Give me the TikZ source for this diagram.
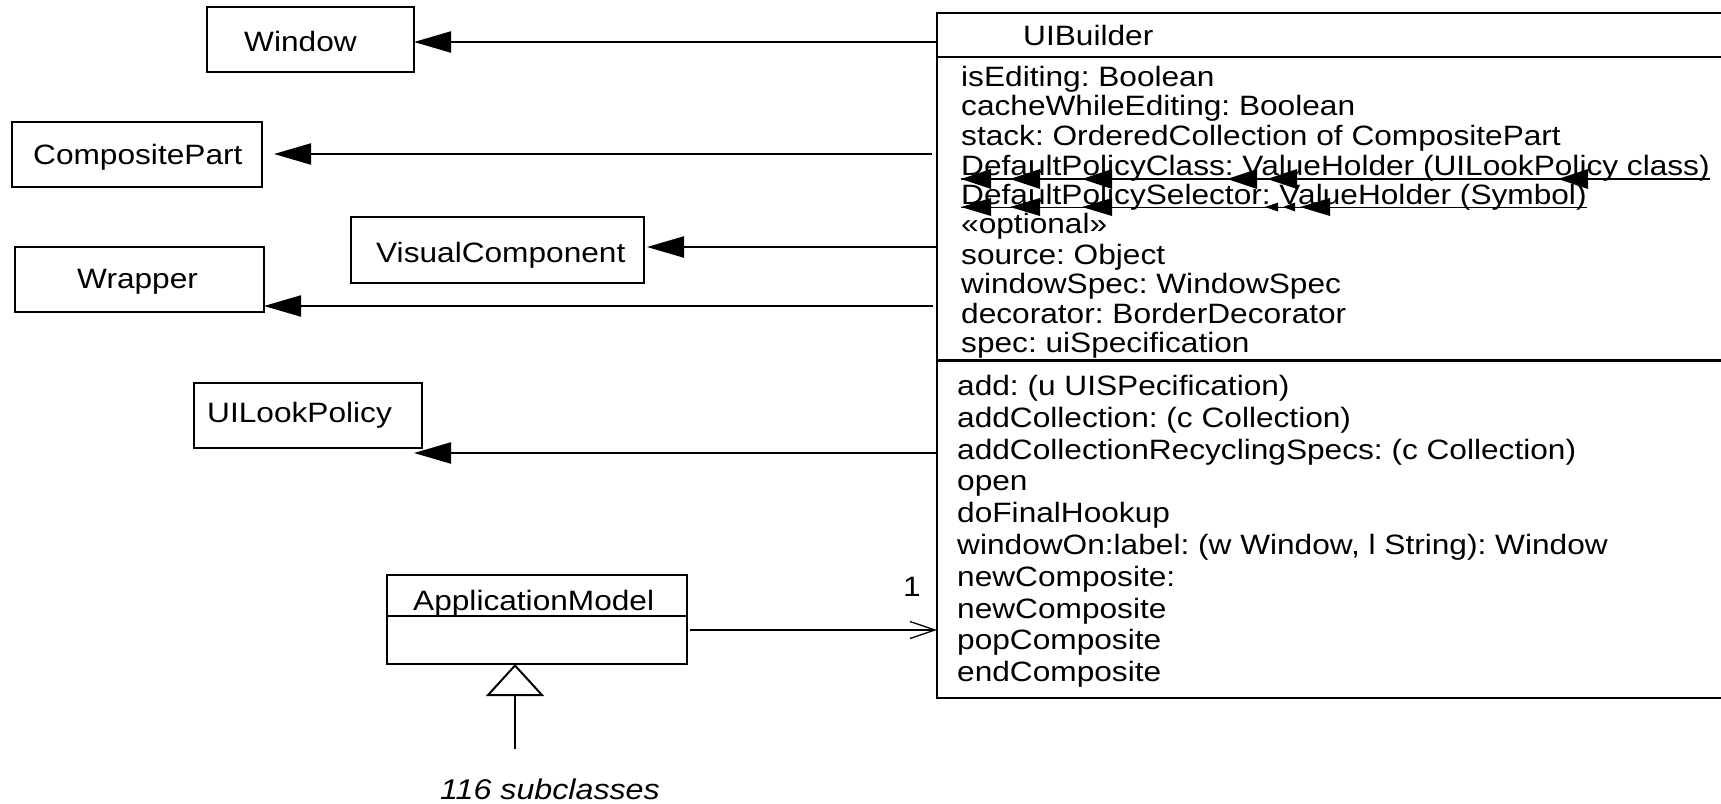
\documentclass[tikz,border=0pt]{standalone}
\usepackage{fontspec}
\setmainfont{Liberation Sans}[FakeStretch=1.13]
\usetikzlibrary{arrows.meta}
\frenchspacing
\begin{document}
\begin{tikzpicture}[x=1pt,y=-1pt,
  txt/.style={anchor=base west, inner sep=0pt, font=\fontsize{28}{30}\selectfont},
  bigtxt/.style={anchor=base west, inner sep=0pt, font=\fontsize{28}{30}\selectfont},
  box/.style={draw, line width=2.3pt, inner sep=0pt, outer sep=0pt, anchor=north west},
  sep/.style={line width=2.3pt},
  dep/.style={line width=2.2pt, -{Triangle[length=37pt,width=21pt]}},
  assoc/.style={line width=1.3pt, -{Straight Barb[length=25pt,width=17pt]}},
  gen/.style={line width=2pt, -{Triangle[open,length=32pt,width=58pt]}},
  uline/.style={line width=1.8pt}]
\useasboundingbox (0,0) rectangle (1721,803);

% ---------- UIBuilder ----------
\node[box, minimum width=820pt, minimum height=685.3pt] (uib) at (937,12.7) {};
\draw[sep] (uib.west |- 0,56.7) -- (uib.east |- 0,56.7);
\draw[sep] (uib.west |- 0,360.5) -- (uib.east |- 0,360.5);
\node[txt] (uibT) at (1023,45) {UIBuilder};

\node[txt] (attr1) at (961,86) {isEditing: Boolean};
\node[txt] (attr2) at (961,115.5) {cacheWhileEditing: Boolean};
\node[txt] (attr3) at (961,145) {stack: OrderedCollection of CompositePart};
\node[txt] (attr4) at (961,175) {DefaultPolicyClass: ValueHolder (UILookPolicy class)};
\node[txt] (attr5) at (961,204.5) {DefaultPolicySelector: ValueHolder (Symbol)};
\node[txt] (attr6) at (961,233) {«optional»};
\node[txt] (attr7) at (961,264) {source: Object};
\node[txt] (attr8) at (961,293) {windowSpec: WindowSpec};
\node[txt] (attr9) at (961,323) {decorator: BorderDecorator};
\node[txt] (attr10) at (961,352) {spec: uiSpecification};
\draw[uline] ([yshift=-4pt]attr4.base west) -- ([yshift=-4pt]attr4.base east);
\draw[uline] ([yshift=-3pt]attr5.base west) -- ([yshift=-3pt]attr5.base east);
\foreach \x in {961,1010,1082,1227,1267,1558}
  \fill (\x,179) -- ++(30,-10) -- ++(0,20) -- cycle;
\foreach \x in {961,1010,1082,1300}
  \fill (\x,207) -- ++(30,-9) -- ++(0,18) -- cycle;
\fill (1265,207) -- ++(13,-4.5) -- ++(0,9) -- cycle;
\fill (1283,207) -- ++(12,-4.5) -- ++(0,9) -- cycle;

\node[txt] (meth1) at (957,395) {add: (u UISPecification)};
\node[txt] (meth2) at (957,427) {addCollection: (c Collection)};
\node[txt] (meth3) at (957,459) {addCollectionRecyclingSpecs: (c Collection)};
\node[txt] (meth4) at (957,490) {open};
\node[txt] (meth5) at (957,522) {doFinalHookup};
\node[txt] (meth6) at (957,554) {windowOn:label: (w Window, l String): Window};
\node[txt] (meth7) at (957,586) {newComposite:};
\node[txt] (meth8) at (957,618) {newComposite};
\node[txt] (meth9) at (957,649) {popComposite};
\node[txt] (meth10) at (957,681) {endComposite};

% ---------- other classes ----------
\node[box, minimum width=207pt, minimum height=65pt] (window) at (207,7) {};
\node[txt] (windowT) at (244,51.7) {Window};
\node[box, minimum width=250pt, minimum height=65pt] (cpart) at (12,122) {};
\node[txt] (cpartT) at (33,164) {CompositePart};
\node[box, minimum width=293pt, minimum height=66pt] (vcomp) at (351,217) {};
\node[txt] (vcompT) at (376,262) {VisualComponent};
\node[box, minimum width=249pt, minimum height=65pt] (wrapper) at (15,247) {};
\node[txt] (wrapperT) at (77,288) {Wrapper};
\node[box, minimum width=228pt, minimum height=65pt] (ulp) at (194,383) {};
\node[txt] (ulpT) at (207,422) {UILookPolicy};

\node[box, line width=2pt, minimum width=300pt, minimum height=89pt] (appm) at (387,575) {};
\draw[line width=2pt] (appm.west |- 0,616) -- (appm.east |- 0,616);
\node[bigtxt] (appmT) at (413,610) {ApplicationModel};

% ---------- connectors ----------
\coordinate (c1) at (937,42);
\coordinate (c2) at (937,154);
\coordinate (c3) at (937,247);
\coordinate (c4) at (937,306);
\coordinate (c5) at (937,453);
\draw[dep] (c1 -| uib.west) -- (c1 -| window.east);
\draw[dep, shorten <=5pt, shorten >=12pt] (c2 -| uib.west) -- (c2 -| cpart.east);
\draw[dep, shorten >=3pt] (c3 -| uib.west) -- (c3 -| vcomp.east);
\draw[dep, shorten <=4pt] (c4 -| uib.west) -- (c4 -| wrapper.east);
\draw[dep, shorten >=-8pt] (c5 -| uib.west) -- (c5 -| ulp.east);

\coordinate (c6) at (690,630);
\draw[assoc] (c6) -- (c6 -| uib.west);
\node[bigtxt] (mult) at (903,596) {1};

\coordinate (subTop) at (515,749);
\draw[gen] (subTop) -- (subTop |- appm.south);
\node[bigtxt, font=\fontsize{28.5}{30}\selectfont\itshape] (subT) at (440,799) {116 subclasses};
\end{tikzpicture}
\end{document}
